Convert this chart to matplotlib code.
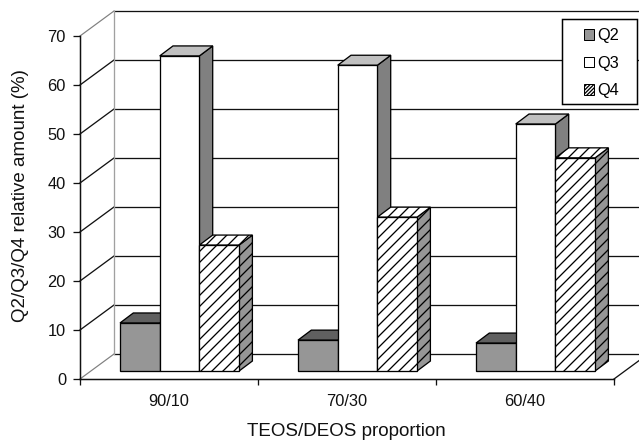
#!/usr/bin/env python3
"""Q2/Q3/Q4 relative amounts versus TEOS/DEOS proportion, as oblique 3D-style bars."""

import numpy as np
import matplotlib
matplotlib.use("Agg")
import matplotlib.pyplot as plt
from matplotlib.patches import Patch, Rectangle

# Data
proportions = ["90/10", "70/30", "60/40"]
series_names = ["Q2", "Q3", "Q4"]
q2_values = [9.8, 6.3, 5.7]
q3_values = [64.3, 62.4, 50.4]
q4_values = [25.7, 31.4, 43.5]
y_ticks = [0, 10, 20, 30, 40, 50, 60, 70]

DPI = 66  # hatch tile size follows the dpi, this one gives wide hatch spacing
PX = 72 / DPI  # one pixel in points

plt.rcParams["font.family"] = ["Liberation Sans", "DejaVu Sans"]
plt.rcParams["font.size"] = 17.8
plt.rcParams["hatch.linewidth"] = 1.3 * PX

fig = plt.figure(figsize=(639 / DPI, 441 / DPI), dpi=DPI, facecolor="white")
ax = fig.add_axes([80 / 639, (441 - 379) / 441, 534 / 639, 343 / 441])
ax.set_xlim(0, 3)
ax.set_ylim(0, 70)
ax.patch.set_visible(False)

# depth of the box and of the bars, in data units
wall_dx, wall_dy = 34 / 178, 25 / 4.9
bar_dx, bar_dy = 13.3 / 178, 10 / 4.9
base_dy = 8 / 4.9
bar_start = 40 / 178
bar_width = 39.7 / 178

# back wall, gridlines and left wall
line_kw = dict(color="#111111", lw=1.3 * PX, clip_on=False, zorder=1)
for tick in y_ticks:
    back = tick + wall_dy
    if tick == 0:
        ax.plot([wall_dx, 3 + wall_dx], [back, back], **line_kw)
        ax.plot([0, wall_dx], [0, back], color="#808080", lw=1.2 * PX, clip_on=False, zorder=1)
        ax.plot([3, 3 + wall_dx], [0, back], **line_kw)
    elif tick == 70:
        ax.plot([wall_dx, 3 + wall_dx], [back, back], **line_kw)
        ax.plot([0, wall_dx], [tick, back], color="#808080", lw=1.2 * PX, clip_on=False, zorder=1)
    else:
        ax.plot([wall_dx, 3 + wall_dx], [back, back], **line_kw)
        ax.plot([0, wall_dx], [tick, back], **line_kw)
ax.plot([wall_dx, wall_dx], [wall_dy, 70 + wall_dy], color="#a0a0a0", lw=1.3 * PX,
        clip_on=False, zorder=1)

# bars: each one has a side face, a top face and a front face
styles = [
    dict(front="#969696", top="#606060", side="#808080", hatch=None),
    dict(front="#ffffff", top="#c0c0c0", side="#808080", hatch=None),
    dict(front="#ffffff", top="#ffffff", side="#969696", hatch="//"),
]
edge_kw = dict(edgecolor="black", linewidth=1.3 * PX, clip_on=False)
x_groups = np.arange(len(proportions))
for s, values in enumerate([q2_values, q3_values, q4_values]):
    style = styles[s]
    lefts = x_groups + bar_start + s * bar_width
    rights = lefts + bar_width
    tops = base_dy + np.array(values)
    z = 3 + s
    for left, right, top in zip(lefts, rights, tops):
        ax.fill([right, right + bar_dx, right + bar_dx, right],
                [base_dy, base_dy + bar_dy, top + bar_dy, top],
                facecolor=style["side"], hatch=style["hatch"], zorder=z, **edge_kw)
        ax.fill([left, left + bar_dx, right + bar_dx, right],
                [top, top + bar_dy, top + bar_dy, top],
                facecolor=style["top"], hatch=style["hatch"], zorder=z, **edge_kw)
    ax.bar(lefts, values, width=bar_width, bottom=base_dy, align="edge",
           color=style["front"], hatch=style["hatch"], zorder=z + 0.5, **edge_kw)

# axes
for name in ("top", "right"):
    ax.spines[name].set_visible(False)
for name in ("left", "bottom"):
    ax.spines[name].set_linewidth(1.5 * PX)
    ax.spines[name].set_color("#111111")
    ax.spines[name].set_zorder(2)
ax.set_yticks(y_ticks)
ax.tick_params(axis="y", length=7 * PX, width=1.3 * PX, pad=7 * PX, colors="#111111")
ax.set_xticks(np.arange(len(proportions) + 1))
ax.set_xticklabels([])
ax.tick_params(axis="x", which="major", length=6 * PX, width=1.3 * PX, color="#111111")
ax.set_xticks(x_groups + 0.5, proportions, minor=True)
ax.tick_params(axis="x", which="minor", length=0, pad=15.5 * PX, labelcolor="#111111")
fig.text(346 / 639, 1 - 431 / 441, "TEOS/DEOS proportion", ha="center", va="center",
         color="#111111", fontsize=20.4)
fig.text(21 / 639, 1 - 196 / 441, "Q2/Q3/Q4 relative amount (%)", rotation=90,
         ha="center", va="center", color="#111111", fontsize=20.4)

# legend: frame drawn separately because it is wider than its entries
fig.add_artist(Rectangle((562 / 639, 1 - 104 / 441), 75 / 639, 85 / 441,
                         transform=fig.transFigure, facecolor="white", edgecolor="black",
                         linewidth=1.5 * PX, zorder=9))
handles = [
    Patch(facecolor="#969696", edgecolor="black", linewidth=1.0 * PX),
    Patch(facecolor="white", edgecolor="black", linewidth=1.0 * PX),
    Patch(facecolor="white", edgecolor="black", linewidth=1.0 * PX, hatch="/" * 6),
]
legend = fig.legend(handles, series_names, loc="upper left",
                    bbox_to_anchor=(583.5 / 639, 1 - 28 / 441),
                    fontsize=17.8, frameon=False,
                    borderaxespad=0, borderpad=0, labelspacing=0.78,
                    handlelength=0.62, handleheight=0.62, handletextpad=0.2)
legend.set_zorder(10)

fig.savefig("out.png", dpi=DPI, facecolor="white")
